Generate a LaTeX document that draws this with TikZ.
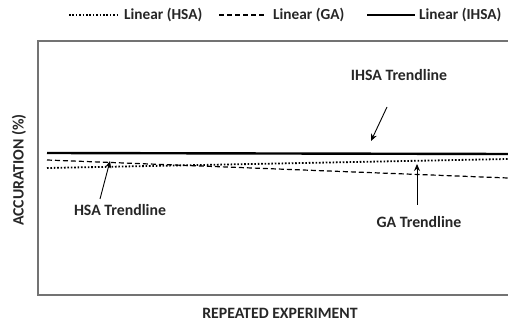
\documentclass[tikz,border=0pt]{standalone}
\usepackage{fontspec}
\setmainfont{Carlito}
\usetikzlibrary{arrows.meta}
\tikzset{
  lbl/.style={font=\bfseries\fontsize{15.8}{18}\selectfont, inner sep=1pt, text=black!85},
  leg/.style={font=\bfseries\fontsize{15.3}{18}\selectfont, inner sep=0pt, anchor=west, text=black!85},
  hsa/.style={line width=1.8pt, dash pattern=on 1.6pt off 1.8pt},
  ga/.style={line width=1.2pt, dash pattern=on 5pt off 3pt},
  ihsa/.style={line width=2.4pt},
  frame/.style={draw=black!55, line width=2pt},
  pointer/.style={line width=0.9pt, -{Stealth[length=7pt,width=6pt]}}
}
\begin{document}
\begin{tikzpicture}[x=1pt,y=-1pt]
\useasboundingbox (0,0) rectangle (508,328);
% legend
\draw[hsa] (69,15) -- (117,15);
\node[leg] (lh) at (124,15) {Linear (HSA)};
\draw[ga] (219,15) -- (266,15);
\node[leg] (lg) at (273,15) {Linear (GA)};
\draw[ihsa] (367,15) -- (415,15);
\node[leg] (li) at (419,15) {Linear (IHSA)};
% frame
\draw[frame] (509,41) -- (38,41) -- (38,295) -- (509,295);
% trendlines
\draw[ihsa] (47,153) -- (508,154);
\draw[hsa] (47,168) -- (508,159);
\draw[ga] (47,160) -- (508,178);
% annotations
\node[lbl] (thsa) at (120,210) {HSA Trendline};
\node[lbl] (tga) at (419,222) {GA Trendline};
\node[lbl] (tihsa) at (399,75) {IHSA Trendline};
\coordinate (hhsa) at (110,161);
\coordinate (hga) at (417,164);
\coordinate (hihsa) at (371,141);
\coordinate (shsa) at (100,199);
\coordinate (sga) at (417,205);
\coordinate (sihsa) at (387,107);
\draw[pointer] (shsa) -- (hhsa);
\draw[pointer] (sga) -- (hga);
\draw[pointer] (sihsa) -- (hihsa);
% axis labels
\node[lbl] (xl) at (280,313) {REPEATED EXPERIMENT};
\node[lbl, rotate=90] (yl) at (19,170) {ACCURATION (\%)};
\end{tikzpicture}
\end{document}
